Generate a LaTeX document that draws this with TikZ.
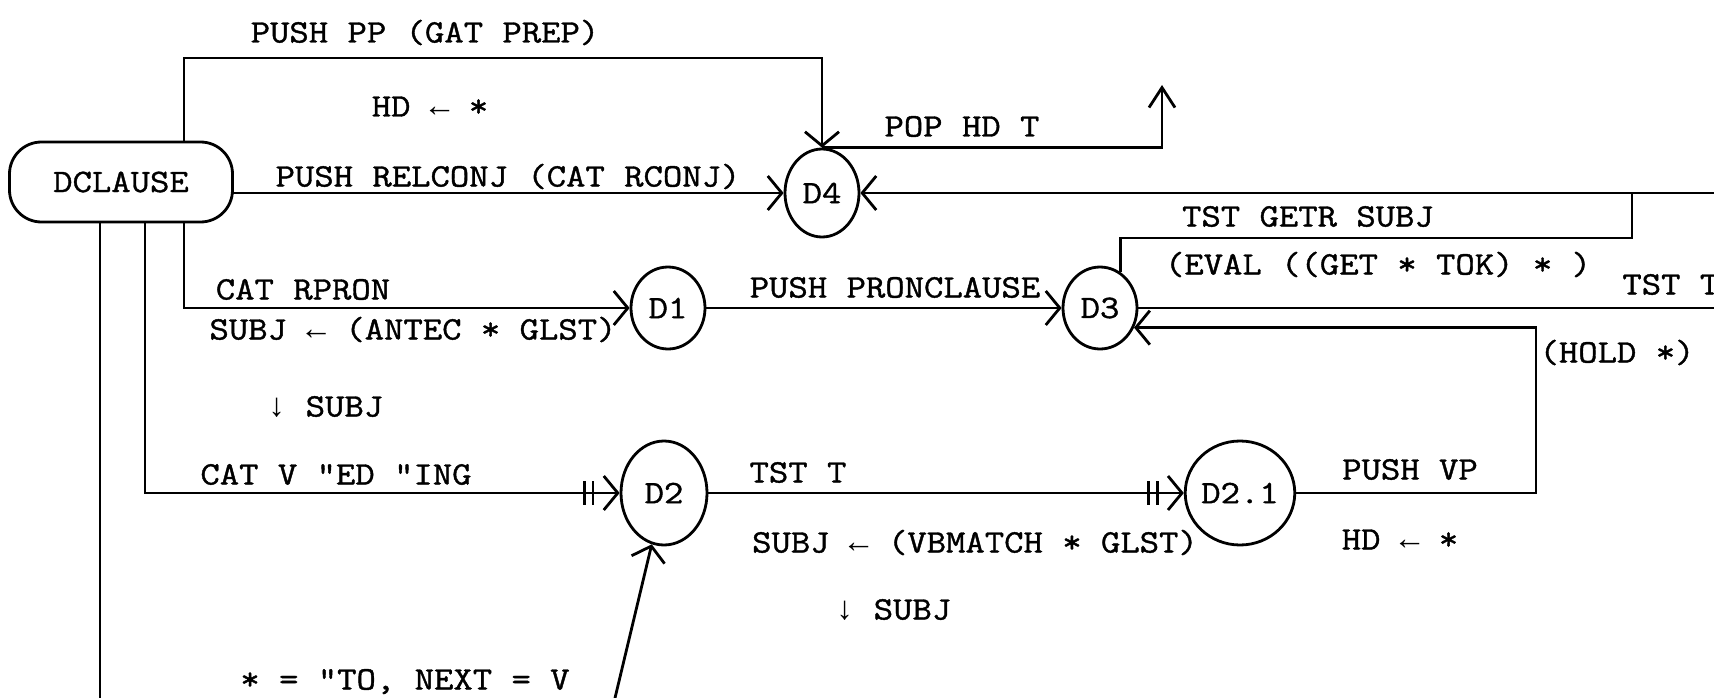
\documentclass[tikz,border=0pt]{standalone}
\usepackage{fontspec}
\newfontfamily\typewr{Latin Modern Mono}[FakeStretch=1.15,FakeBold=1.2]
\newfontfamily\arrfont{Liberation Mono}
\newcommand\larr{{\arrfont ←}}
\newcommand\darr{{\arrfont ↓}}
\usetikzlibrary{arrows.meta,calc,positioning,shapes.geometric}

\begin{document}
\begin{tikzpicture}[x=1pt,y=-1pt,line width=2.8pt,font=\typewr\fontsize{32.7}{38}\selectfont]
  \tikzset{st/.style={draw,ellipse,minimum width=74pt,minimum height=82pt,inner sep=0pt},
    bigst/.style={st,minimum width=86pt,minimum height=104pt},
    arc/.style={-{Straight Barb[length=14pt,width=34pt]}},
    uparc/.style={-{Straight Barb[length=20pt,width=26pt]}},
    dbl/.style={-{Bar[width=24pt,sep=6pt]Bar[width=24pt,sep=8pt]Straight Barb[length=14pt,width=34pt]}},
    lbl/.style={inner sep=0pt,text height=19pt,text depth=0pt}}
  \useasboundingbox (0,0) rectangle (1714,698);
  % ---------------- states
  \node[draw,rounded corners=32pt,minimum width=223pt,minimum height=80pt] (dcl) at (121,182) {DCLAUSE};
  \node[st,minimum height=88pt] (d4) at (822,193) {D4};
  \node[st] (d1) at (668,308) {D1};
  \node[st] (d3) at (1100,308) {D3};
  \node[bigst] (d2) at (664,493) {D2};
  \node[bigst] (d21) at (1240,493) {D2.1};
  % ---------------- free ends
  \coordinate (redge) at (1714,0);
  \coordinate (colA) at (100,698);
  \coordinate (colB) at (145,0);
  \coordinate (colC) at (184,58);
  \coordinate (popup) at (1162,85);
  \coordinate (getr) at (1632,238);
  \coordinate (hold) at (1536,0);
  \coordinate (next) at (615,698);
  % ---------------- arcs
  \draw[arc] (dcl.north -| colC) -- (colC) -| (d4.north);
  \draw[arc] ([xshift=-3pt]dcl.east |- d4.west) -- (d4.west);
  \draw[uparc] (d4.north) -| (popup);
  \draw[arc] (d4.east -| redge) -- (d4.east);
  \draw (d3.60) |- (getr) -- (getr |- d4.east);
  \draw[arc] (dcl.south -| colC) |- (d1.west);
  \draw[arc] (d1) -- (d3);
  \draw (d3.east) -- (d3.east -| redge);
  \draw[dbl] (dcl.south -| colB) |- (d2.west);
  \draw[dbl] (d2) -- (d21);
  \draw[arc] (d21.east) -- (d21.east -| hold) |- (d3.-30);
  \draw (dcl.south -| colA) -- (colA);
  \draw[arc] (next) -- (d2);
  % ---------------- labels
  \node[lbl] (lpp) at (425,33) {PUSH PP (GAT PREP)};
  \node[lbl] (lhd1) at (430,107) {HD \larr{} *};
  \node[lbl] (lrel) at (508,177) {PUSH RELCONJ (CAT RCONJ)};
  \node[lbl] (lpop) at (962,127) {POP HD T};
  \node[lbl] (lgetr) at (1308,217) {TST GETR SUBJ};
  \node[lbl] (leval) at (1378,265) {(EVAL ((GET * TOK) * )};
  \node[lbl,anchor=west] (ltst1) at (1621,285) {TST T};
  \node[lbl] (lhold) at (1617,353) {(HOLD *)};
  \node[lbl] (lrpron) at (303,290) {CAT RPRON};
  \node[lbl] (lantec) at (413,330) {SUBJ \larr{} (ANTEC * GLST)};
  \node[lbl] (lsub1) at (325,407) {\darr{} SUBJ};
  \node[lbl] (lpron) at (895,288) {PUSH PRONCLAUSE};
  \node[lbl] (lcatv) at (336,475) {CAT V "ED "ING};
  \node[lbl] (ltst2) at (798,473) {TST T};
  \node[lbl] (lvbm) at (975,543) {SUBJ \larr{} (VBMATCH * GLST)};
  \node[lbl] (lsub2) at (893,610) {\darr{} SUBJ};
  \node[lbl] (lvp) at (1410,470) {PUSH VP};
  \node[lbl] (lhd2) at (1400,540) {HD \larr{} *};
  \node[lbl] (lto) at (405,680) {* = "TO, NEXT = V};
\end{tikzpicture}
\end{document}
